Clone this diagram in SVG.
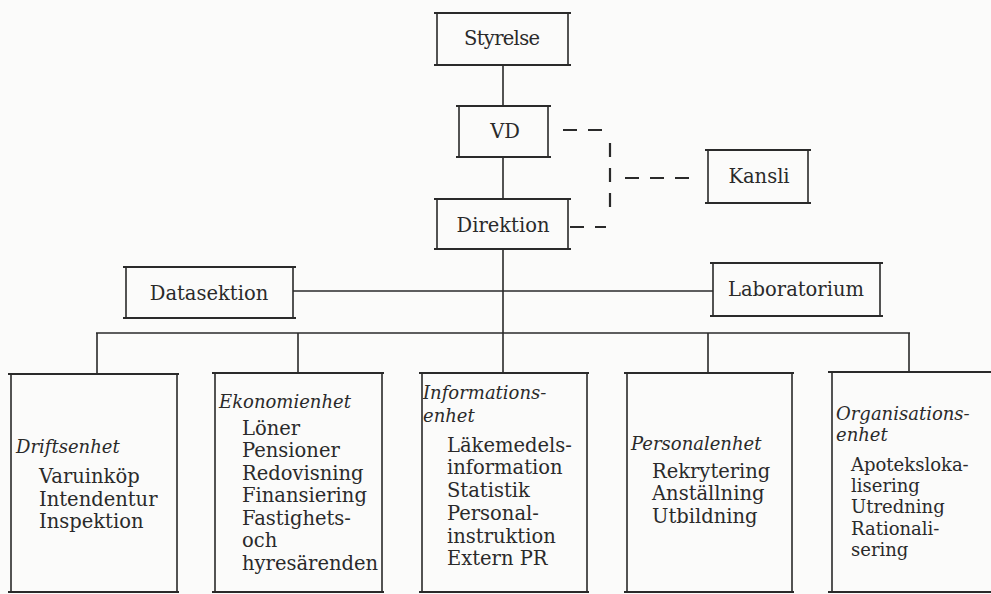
<svg xmlns="http://www.w3.org/2000/svg" width="991" height="594" viewBox="0 0 991 594">
<style>
.bg{fill:#fbfbfa}
.h{stroke:#2a2a2a;stroke-width:2.2;fill:none}
.v{stroke:#2a2a2a;stroke-width:1.6;fill:none}
.ln{stroke:#2a2a2a;stroke-width:1.6;fill:none}
.dash{stroke:#2a2a2a;stroke-width:2.2;fill:none;stroke-dasharray:14 11}
.t{font-family:"DejaVu Serif","Liberation Serif",serif;font-size:19.5px;fill:#2a2a2a}
.s{font-size:18px}
.c{text-anchor:middle}
.i{font-family:"DejaVu Serif","Liberation Serif",serif;font-style:italic;font-size:18px;fill:#2a2a2a}
</style>
<rect class="bg" x="0" y="0" width="991" height="594"/>

<g id="connectors">
  <path class="ln" d="M503,65 V106 M503,157 V199 M503,249 V333"/>
  <path class="ln" d="M293,291 H713"/>
  <path class="ln" d="M96,333 H910"/>
  <path class="ln" d="M97,333 V374 M298,333 V373 M503,333 V373 M708,333 V373 M909,333 V372"/>
  <path class="dash" d="M563,130 H606"/>
  <path class="dash" d="M610,143 V218"/>
  <path class="dash" d="M570,227 H606"/>
  <path class="dash" d="M625,178 H700"/>
</g>

<g id="styrelse">
  <path class="h" d="M434,13 H571 M434,65 H571"/>
  <path class="v" d="M437,13 V65 M568,13 V65"/>
  <text class="t c" x="502" y="45" textLength="76">Styrelse</text>
</g>
<g id="vd">
  <path class="h" d="M456,106 H551 M456,157 H551"/>
  <path class="v" d="M459,106 V157 M548,106 V157"/>
  <text class="t c" x="505" y="138">VD</text>
</g>
<g id="direktion">
  <path class="h" d="M434,199 H571 M434,249 H571"/>
  <path class="v" d="M437,199 V249 M568,199 V249"/>
  <text class="t c" x="503" y="232">Direktion</text>
</g>
<g id="kansli">
  <path class="h" d="M705,150 H811 M705,203 H811"/>
  <path class="v" d="M708,150 V203 M808,150 V203"/>
  <text class="t c" x="759" y="183">Kansli</text>
</g>
<g id="datasektion">
  <path class="h" d="M123,267 H296 M123,318 H296"/>
  <path class="v" d="M126,267 V318 M293,267 V318"/>
  <text class="t c" x="209" y="300">Datasektion</text>
</g>
<g id="laboratorium">
  <path class="h" d="M710,263 H883 M710,316 H883"/>
  <path class="v" d="M713,263 V316 M880,263 V316"/>
  <text class="t c" x="796" y="296">Laboratorium</text>
</g>

<g id="driftsenhet">
  <path class="h" d="M8,374 H179 M8,592 H179"/>
  <path class="v" d="M11,374 V592 M177,374 V592"/>
  <text class="i" x="16" y="453">Driftsenhet</text>
  <text class="t" x="39" y="483">Varuinköp</text>
  <text class="t" x="39" y="506">Intendentur</text>
  <text class="t" x="39" y="528">Inspektion</text>
</g>
<g id="ekonomienhet">
  <path class="h" d="M212,373 H384 M212,592 H384"/>
  <path class="v" d="M215,373 V592 M382,373 V592"/>
  <text class="i" x="219" y="408">Ekonomienhet</text>
  <text class="t" x="242" y="435">Löner</text>
  <text class="t" x="242" y="457">Pensioner</text>
  <text class="t" x="242" y="480">Redovisning</text>
  <text class="t" x="242" y="502">Finansiering</text>
  <text class="t" x="242" y="525">Fastighets-</text>
  <text class="t" x="242" y="547">och</text>
  <text class="t" x="242" y="570">hyresärenden</text>
</g>
<g id="informationsenhet">
  <path class="h" d="M419,373 H589 M419,592 H589"/>
  <path class="v" d="M422,373 V592 M587,373 V592"/>
  <text class="i" x="423" y="399">Informations-</text>
  <text class="i" x="423" y="422">enhet</text>
  <text class="t" x="447" y="452">Läkemedels-</text>
  <text class="t" x="447" y="474">information</text>
  <text class="t" x="447" y="497">Statistik</text>
  <text class="t" x="447" y="520">Personal-</text>
  <text class="t" x="447" y="543">instruktion</text>
  <text class="t" x="447" y="565">Extern PR</text>
</g>
<g id="personalenhet">
  <path class="h" d="M624,373 H794 M624,592 H794"/>
  <path class="v" d="M627,373 V592 M792,373 V592"/>
  <text class="i" x="631" y="450">Personalenhet</text>
  <text class="t" x="652" y="478">Rekrytering</text>
  <text class="t" x="652" y="500">Anställning</text>
  <text class="t" x="652" y="523">Utbildning</text>
</g>
<g id="organisationsenhet">
  <path class="h" d="M828,372 H991 M828,592 H991"/>
  <path class="v" d="M832,372 V592"/>
  <text class="i" x="836" y="420">Organisations-</text>
  <text class="i" x="836" y="441">enhet</text>
  <text class="t s" x="851" y="471">Apoteksloka-</text>
  <text class="t s" x="851" y="492">lisering</text>
  <text class="t s" x="851" y="513">Utredning</text>
  <text class="t s" x="851" y="535">Rationali-</text>
  <text class="t s" x="851" y="556">sering</text>
</g>
</svg>
